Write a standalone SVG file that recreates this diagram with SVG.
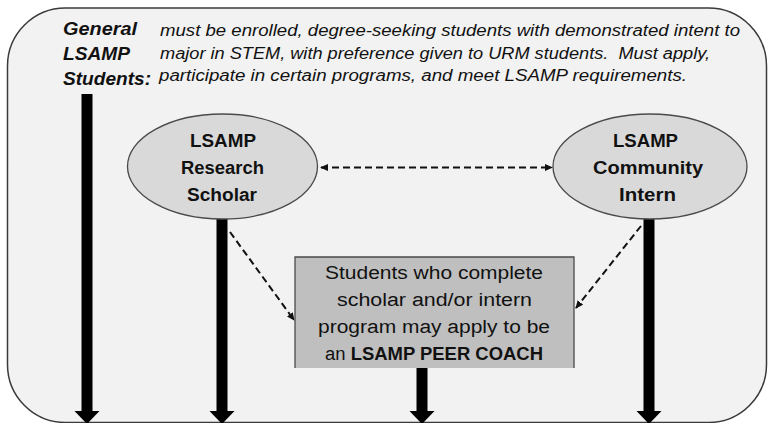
<svg xmlns="http://www.w3.org/2000/svg" width="768" height="423" viewBox="0 0 768 423">
  <style>
    .frame { fill: #f2f2f2; stroke: #3a3a3a; stroke-width: 1.5; }
    .oval { fill: #d9d9d9; stroke: #4a4a4a; stroke-width: 1.3; }
    .box { fill: #bfbfbf; }
    .box-edge { fill: none; stroke: #4a4a4a; stroke-width: 1.3; }
    .txt { font-family: "Liberation Sans", Arial, sans-serif; fill: #111; }
    .hdr { font-size: 17.5px; font-weight: bold; font-style: italic; }
    .desc { font-size: 16px; font-style: italic; }
    .node { font-size: 18px; font-weight: bold; text-anchor: middle; }
    .body { font-size: 18px; text-anchor: middle; }
    .flow { stroke: #000; stroke-width: 11; fill: none; marker-end: url(#bighead); }
    .link { stroke: #111; stroke-width: 2; stroke-dasharray: 7 4; fill: none; marker-end: url(#smallhead); }
  </style>
  <defs>
    <marker id="bighead" markerUnits="userSpaceOnUse" viewBox="0 -13 14 26" refX="0" refY="0" markerWidth="14" markerHeight="26" orient="auto" overflow="visible">
      <path d="M0,-12.5 L13,0 L0,12.5 z" fill="#000"/>
    </marker>
    <marker id="smallhead" markerUnits="userSpaceOnUse" viewBox="0 0 8 7" refX="7" refY="3.5" markerWidth="8" markerHeight="7" orient="auto-start-reverse">
      <path d="M0,0 L8,3.5 L0,7 z" fill="#111"/>
    </marker>
  </defs>

  <!-- outer panel -->
  <rect class="frame" x="7.5" y="8" width="759" height="414.5" rx="58" ry="58"/>

  <!-- heading and description -->
  <g id="general-students">
    <text class="txt hdr" x="63" y="34.5" textLength="74" lengthAdjust="spacingAndGlyphs">General</text>
    <text class="txt hdr" x="63" y="59.5" textLength="67" lengthAdjust="spacingAndGlyphs">LSAMP</text>
    <text class="txt hdr" x="63" y="84.5" textLength="88" lengthAdjust="spacingAndGlyphs">Students:</text>
    <text class="txt desc" x="160" y="36" textLength="580" lengthAdjust="spacingAndGlyphs">must be enrolled, degree-seeking students with demonstrated intent to</text>
    <text class="txt desc" x="160" y="58.5" textLength="550" lengthAdjust="spacingAndGlyphs" xml:space="preserve">major in STEM, with preference given to URM students.  Must apply,</text>
    <text class="txt desc" x="159" y="81" textLength="528" lengthAdjust="spacingAndGlyphs">participate in certain programs, and meet LSAMP requirements.</text>
  </g>

  <!-- connectors -->
  <g id="connectors">
    <line class="flow" x1="87" y1="94" x2="87" y2="411"/>
    <line class="flow" x1="222" y1="219" x2="222" y2="411"/>
    <line class="flow" x1="422" y1="368" x2="422" y2="411"/>
    <line class="flow" x1="649" y1="219" x2="649" y2="411"/>
    <line class="link" x1="321" y1="167.5" x2="552" y2="167.5" marker-start="url(#smallhead)"/>
    <line class="link" x1="230" y1="232" x2="294" y2="320"/>
    <line class="link" x1="641" y1="226" x2="576" y2="308"/>
  </g>

  <g id="research-scholar">
    <ellipse class="oval" cx="222.5" cy="166.5" rx="95" ry="52.5"/>
    <text class="txt node" x="223" y="146.5" textLength="66" lengthAdjust="spacingAndGlyphs">LSAMP</text>
    <text class="txt node" x="222.5" y="173.5" textLength="83" lengthAdjust="spacingAndGlyphs">Research</text>
    <text class="txt node" x="222" y="201" textLength="70" lengthAdjust="spacingAndGlyphs">Scholar</text>
  </g>

  <g id="community-intern">
    <ellipse class="oval" cx="650" cy="166.5" rx="97" ry="52.5"/>
    <text class="txt node" x="645.5" y="146.5" textLength="65" lengthAdjust="spacingAndGlyphs">LSAMP</text>
    <text class="txt node" x="648" y="173.5" textLength="110" lengthAdjust="spacingAndGlyphs">Community</text>
    <text class="txt node" x="647.5" y="200.5" textLength="57" lengthAdjust="spacingAndGlyphs">Intern</text>
  </g>

  <g id="peer-coach">
    <rect class="box" x="295" y="257" width="279" height="111"/>
    <path class="box-edge" d="M295,368 V257 H574 V368"/>
    <text class="txt body" x="434" y="278.5" textLength="218" lengthAdjust="spacingAndGlyphs">Students who complete</text>
    <text class="txt body" x="434.5" y="305.5" textLength="195" lengthAdjust="spacingAndGlyphs">scholar and/or intern</text>
    <text class="txt body" x="434" y="332.5" textLength="232" lengthAdjust="spacingAndGlyphs">program may apply to be</text>
    <text class="txt body" x="434" y="360" textLength="218" lengthAdjust="spacingAndGlyphs">an <tspan font-weight="bold">LSAMP PEER COACH</tspan></text>
  </g>
</svg>
